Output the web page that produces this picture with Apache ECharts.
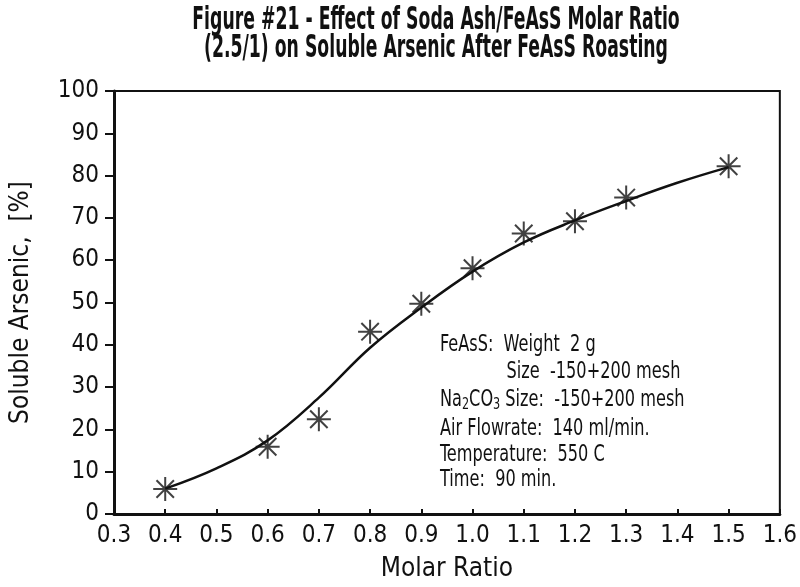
<!DOCTYPE html>
<html><head><meta charset="utf-8">
<script src="https://cdn.jsdelivr.net/npm/echarts@6/dist/echarts.min.js"></script>
<style>html,body{margin:0;padding:0;background:#fff}#c{width:800px;height:587px}</style>
</head><body><div id="c"></div>
<script>
var titleLines = ['Figure #21 - Effect of Soda Ash/FeAsS Molar Ratio', '(2.5/1) on Soluble Arsenic After FeAsS Roasting'];
var xName = 'Molar Ratio';
var yName = 'Soluble Arsenic,  [%]';
var ratio = [0.4, 0.6, 0.7, 0.8, 0.9, 1.0, 1.1, 1.2, 1.3, 1.5];
var arsenic = [5.9, 15.9, 22.4, 43.1, 49.7, 58.1, 66.3, 69.2, 74.8, 82.2];
var fitX = [0.4, 0.5, 0.6, 0.7, 0.8, 0.9, 1.0, 1.1, 1.2, 1.3, 1.4, 1.5];
var fitY = [6.0, 10.8, 17.4, 27.5, 39.3, 48.8, 57.3, 64.2, 69.4, 74.0, 78.3, 82.0];
var notes = ['FeAsS:  Weight  2 g', '             Size  -150+200 mesh', 'Na{s|2}CO{s|3} Size:  -150+200 mesh', 'Air Flowrate:  140 ml/min.', 'Temperature:  550 C', 'Time:  90 min.'];
var noteRows = [345, 372, 400, 429, 455, 480];

var FONT = "'Liberation Sans Narrow','DejaVu Sans Condensed','Roboto Condensed',sans-serif";
var chart = echarts.init(document.getElementById('c'));
var star = 'path://M0,-11L0,11M-11,0L11,0M-8,-8L8,8M-8,8L8,-8';
var noteEls = notes.map(function (t, i) {
  return {
    type: 'text', x: 440, y: noteRows[i], scaleX: 0.78,
    style: { text: t, font: '23px ' + FONT, fill: '#111', verticalAlign: 'middle', lineHeight: 26,
      rich: { s: { font: '16px ' + FONT, fill: '#111', verticalAlign: 'bottom', lineHeight: 26 } } }
  };
});
var titleEls = titleLines.map(function (t, i) {
  return {
    type: 'text', x: 436, y: 5 + i * 28, scaleX: 0.6,
    style: { text: t, font: 'bold 32px ' + FONT, fill: '#111', textAlign: 'center' }
  };
});
chart.setOption({
  animation: false,
  backgroundColor: '#fff',
  grid: { left: 113, right: 13, top: 91, bottom: 66, show: true, borderColor: '#111', borderWidth: 2 },
  xAxis: {
    type: 'value', min: 0.3, max: 1.6, interval: 0.1,
    name: xName, nameLocation: 'middle', nameGap: 42,
    nameTextStyle: { fontFamily: FONT, fontSize: 26, color: '#111' },
    axisLine: { lineStyle: { color: '#111', width: 3 } },
    axisTick: { show: true, inside: true, length: 5, lineStyle: { color: '#111', width: 2 } },
    axisLabel: { fontFamily: FONT, fontSize: 24, color: '#111', margin: 10,
      formatter: function (v) { return v.toFixed(1); } },
    splitLine: { show: false }
  },
  yAxis: {
    type: 'value', min: 0, max: 100, interval: 10,
    name: yName, nameLocation: 'middle', nameGap: 80,
    nameTextStyle: { fontFamily: FONT, fontSize: 26, color: '#111' },
    axisLine: { lineStyle: { color: '#111', width: 3 } },
    axisTick: { show: true, length: 9, lineStyle: { color: '#111', width: 2 } },
    axisLabel: { fontFamily: FONT, fontSize: 24, color: '#111', margin: 15 },
    splitLine: { show: false }
  },
  graphic: titleEls.concat(noteEls),
  series: [
    { type: 'line', data: fitX.map(function (x, i) { return [x, fitY[i]]; }), smooth: 0.4,
      showSymbol: false, lineStyle: { color: '#111', width: 2.5 }, silent: true },
    { type: 'scatter', data: ratio.map(function (x, i) { return [x, arsenic[i]]; }),
      symbol: star, symbolSize: 24,
      itemStyle: { color: 'none', borderColor: '#111', borderWidth: 2 } }
  ]
});
</script></body></html>
